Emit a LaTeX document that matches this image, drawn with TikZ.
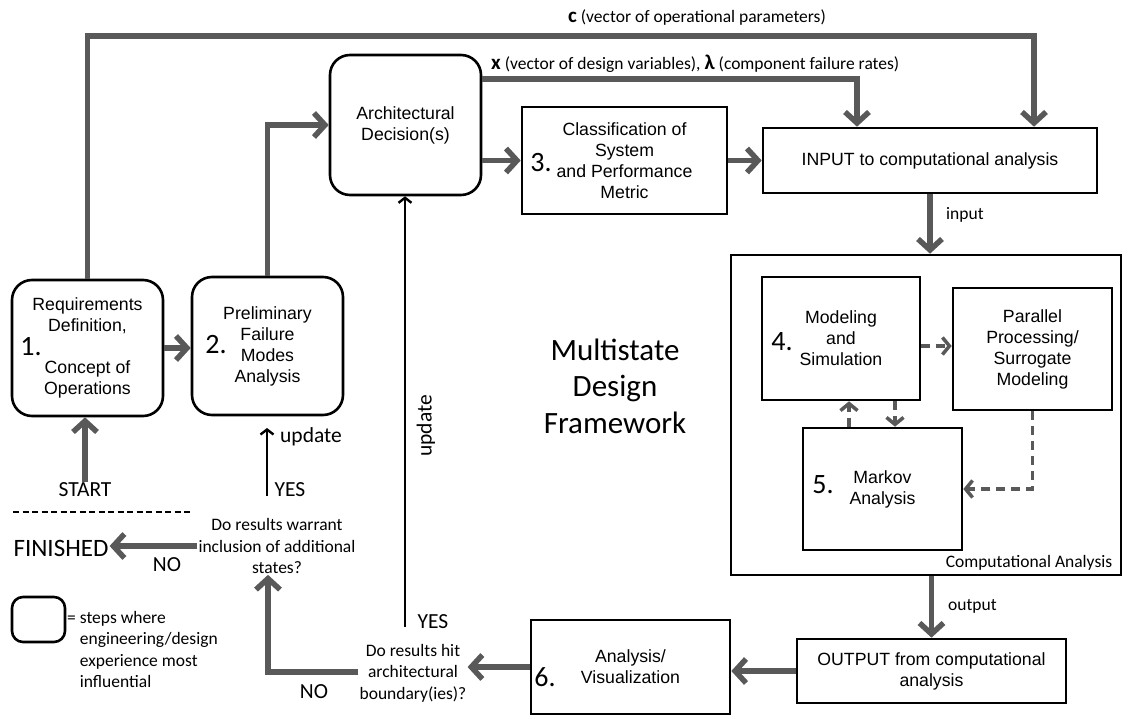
\documentclass[tikz,border=0pt]{standalone}
\usepackage{fontspec}
\setmainfont{Liberation Sans}
\newfontfamily\calfont{Carlito}
\usetikzlibrary{arrows.meta,calc}
\definecolor{ag}{RGB}{89,89,89}
\begin{document}
\begin{tikzpicture}[x=1pt,y=-1pt,
  box/.style={draw, line width=2.6pt, align=center, inner sep=0pt, font=\fontsize{17.7}{21}\selectfont},
  rbox/.style={box, rounded corners=20pt},
  num/.style={font=\calfont\fontsize{28}{30}\selectfont, inner sep=0pt},
  lbl/.style={font=\calfont\fontsize{17.5}{21.5}\selectfont, inner sep=1pt, align=center},
  big/.style={font=\calfont\fontsize{21.5}{23}\selectfont, inner sep=1pt},
  garrow/.style={draw=ag, line width=5.5pt, -{Straight Barb[length=11pt,width=24pt]}},
  barrow/.style={draw=black, line width=2.4pt, -{Straight Barb[length=5pt,width=13pt]}},
  dashar/.style={draw=ag, line width=3.5pt, dash pattern=on 9pt off 6pt, -{Straight Barb[length=7pt,width=17pt]}}]
\useasboundingbox (0,0) rectangle (1130,719);

% boxes
\node[rbox, minimum width=151pt, minimum height=136pt] (box1) at (87.5,348) {Requirements\\Definition,\\\mbox{}\\Concept of\\Operations};
\node[rbox, minimum width=151pt, minimum height=138pt] (box2) at (267.5,346) {Preliminary\\Failure\\Modes\\Analysis};
\node[rbox, minimum width=151pt, minimum height=140pt] (arch) at (405.5,125) {Architectural\\Decision(s)};
\node[box, minimum width=205pt, minimum height=107pt] (box3) at (624.5,160.5) {Classification of\\System\\and Performance\\Metric};
\node[box, minimum width=334pt, minimum height=65pt] (input) at (930,160.5) {INPUT to computational analysis};
\node[box, minimum width=390pt, minimum height=320pt] (comp) at (926,415) {};
\node[box, minimum width=158pt, minimum height=123pt] (box4) at (841,338.5) {Modeling\\and\\Simulation};
\node[box, minimum width=159pt, minimum height=122pt] (par) at (1032.5,349) {Parallel\\Processing/\\Surrogate\\Modeling};
\node[box, minimum width=159pt, minimum height=122pt] (markov) at (882.5,489) {Markov\\Analysis};
\node[box, minimum width=269pt, minimum height=64pt] (output) at (931.5,671) {OUTPUT from computational\\analysis};
\node[box, minimum width=199pt, minimum height=94pt] (box6) at (630.5,667) {Analysis/\\Visualization};

% numbers
\node[num] (n1) at (31,347) {1.};
\node[num] (n2) at (216,345) {2.};
\node[num] (n3) at (541,163) {3.};
\node[num] (n4) at (782,342) {4.};
\node[num] (n5) at (823,485) {5.};
\node[num] (n6) at (545,677) {6.};

% labels
\node[lbl] (clab) at (697,18) {{\bfseries\fontsize{21}{21}\selectfont c} (vector of operational parameters)};
\node[lbl, anchor=west] (xlab) at (490,64) {{\bfseries\fontsize{21}{21}\selectfont x} (vector of design variables), {\bfseries\fontsize{21}{21}\selectfont λ} (component failure rates)};
\node[lbl, anchor=west] (inlab) at (945,215) {input};
\node[lbl, anchor=west] (outlab) at (947,606) {output};
\node[lbl, font=\calfont\fontsize{17.5}{19}\selectfont] (calab) at (1029,563) {Computational Analysis};
\node[font=\calfont\fontsize{31}{36.5}\selectfont, align=center] (msd) at (615,386) {Multistate\\Design\\Framework};

\node[lbl] (q1) at (277,546) {Do results warrant\\inclusion of additional\\states?};
\node[lbl] (q2) at (413,673) {Do results hit\\architectural\\boundary(ies)?};
\node[font=\calfont\fontsize{25}{27}\selectfont, inner sep=1pt] (finished) at (61,548) {FINISHED};
\node[big] (start) at (85,490) {START};
\node[big] (yes1) at (290,490) {YES};
\node[big] (yes2) at (433,622) {YES};
\node[big] (no1) at (167,565) {NO};
\node[big] (no2) at (314,692) {NO};
\node[big] (upd1) at (311,437) {update};
\node[big, rotate=90] (upd2) at (426,426) {update};

% legend
\node[draw, line width=2.6pt, rounded corners=11pt, minimum width=53pt, minimum height=45pt] (leg) at (38.5,619.5) {};
\node[lbl, anchor=north west, align=left] (legtxt) at (66,610) {= steps where\\\phantom{= }engineering/design\\\phantom{= }experience most\\\phantom{= }influential};

% separator
\coordinate (s1) at (13,512);
\coordinate (s2) at (190,512);
\draw[line width=1.5pt, dash pattern=on 6pt off 3.5pt] (s1) -- (s2);

% gray connectors
\coordinate (cR) at (1034,36);
\coordinate (xR) at (857,79);
\draw[garrow] (box1.north) |- (cR) -- (cR |- input.north);
\draw[garrow] (arch.east |- xR) -- (xR) -- (xR |- input.north);
\draw[garrow] (box2.north) |- (arch.west);
\draw[garrow] (box1.east) -- (box1.east -| box2.west);
\draw[garrow] (arch.east |- box3.west) -- (box3.west);
\draw[garrow] (box3.east) -- (box3.east -| input.west);
\draw[garrow] (input.south) -- (input.south |- comp.north);
\draw[garrow] (output.north |- comp.south) -- (output.north);
\draw[garrow] (output.west) -- (output.west -| box6.east);
\draw[garrow] (box6.west) -- (box6.west -| q2.east);
\coordinate (nb) at (268,672);
\draw[garrow] (q2.west |- nb) -- (nb) -- (nb |- q1.south);
\draw[garrow] (q1.west) -- (q1.west -| finished.east);
\draw[garrow] (start.north) -- (start.north |- box1.south);

% black update arrows
\coordinate (b2) at (405,627);
\draw[barrow] (b2) -- (b2 |- arch.south);
\coordinate (b1a) at (267,496);
\coordinate (b1b) at (267,428);
\draw[barrow] (b1a) -- (b1b);

% dashed arrows in computational analysis
\coordinate (d1) at ($(box4.south)+(8,0)$);
\coordinate (d2) at ($(box4.south)+(54,0)$);
\draw[dashar] ([yshift=-7.5pt]box4.east) -- ([yshift=-7.5pt]box4.east -| par.west);
\draw[dashar] (d1 |- markov.north) -- (d1);
\draw[dashar] (d2) -- (d2 |- markov.north);
\draw[dashar] (par.south) |- (markov.east);
\end{tikzpicture}
\end{document}
